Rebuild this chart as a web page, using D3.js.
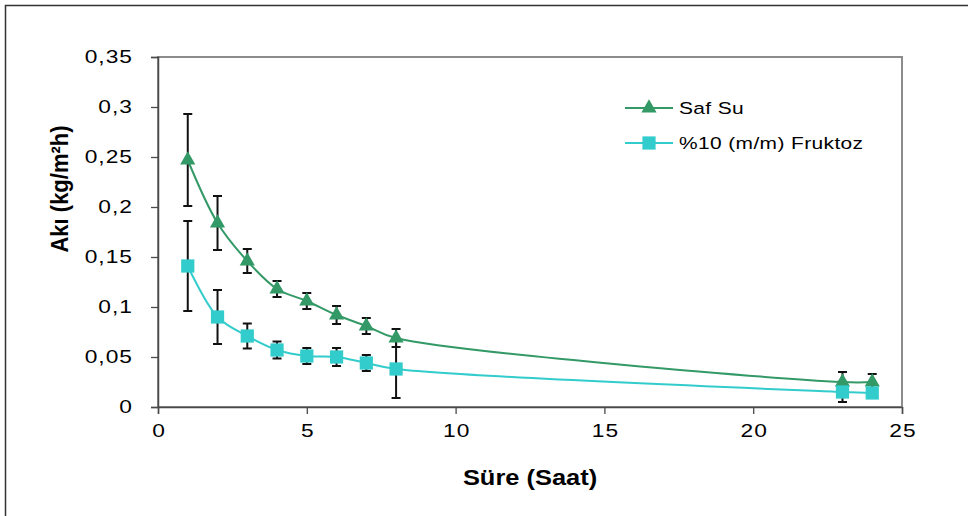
<!DOCTYPE html>
<html>
<head>
<meta charset="utf-8">
<script src="https://cdn.jsdelivr.net/npm/d3@7"></script>
<style>
  body { margin: 0; background: #fff; }
  svg { display: block; font-family: "Liberation Sans", Arial, sans-serif; }
</style>
</head>
<body>
<div id="chart"></div>
<script>
const hours = [1, 2, 3, 4, 5, 6, 7, 8, 23, 24];
const safSu = [0.247, 0.184, 0.146, 0.118, 0.106, 0.092, 0.081, 0.069, 0.025, 0.025];
const safSuErr = [0.046, 0.027, 0.012, 0.008, 0.008, 0.009, 0.008, 0.009, 0.010, 0.008];
const fruktoz = [0.141, 0.090, 0.071, 0.057, 0.051, 0.050, 0.044, 0.038, 0.015, 0.014];
const fruktozErr = [0.045, 0.027, 0.0125, 0.0085, 0.008, 0.009, 0.008, 0.029, 0.010, 0.004];
const xTicks = [0, 5, 10, 15, 20, 25];
const yTicks = [0, 0.05, 0.1, 0.15, 0.2, 0.25, 0.3, 0.35];

const W = 968, H = 516;
const margin = {top: 57, right: 66, bottom: 109, left: 158};
const width = W - margin.left - margin.right;
const height = H - margin.top - margin.bottom;

// the source text is drawn wider than plain Arial
const stretch = 1.3;
const spacing = 0.8;

const svg = d3.select("#chart").append("svg")
    .attr("width", W)
    .attr("height", H);

// outer chart frame
svg.append("rect")
    .attr("x", 5.5).attr("y", 5.5)
    .attr("width", W + 20).attr("height", H + 20)
    .attr("fill", "none")
    .attr("stroke", "#333")
    .attr("stroke-width", 1.5);

const g = svg.append("g")
    .attr("transform", `translate(${margin.left},${margin.top})`);

const x = d3.scaleLinear().domain([0, 25]).range([0, width]);
const y = d3.scaleLinear().domain([0, 0.35]).range([height, 0]);

// plot area border
g.append("rect")
    .attr("width", width).attr("height", height)
    .attr("fill", "none")
    .attr("stroke", "#8c8c8c")
    .attr("stroke-width", 2);

const fmt = d => String(d).replace(".", ",");

const xAxis = g.append("g")
    .attr("transform", `translate(0,${height})`)
    .call(d3.axisBottom(x).tickValues(xTicks).tickSize(7).tickPadding(0).tickFormat(fmt));
const yAxis = g.append("g")
    .call(d3.axisLeft(y).tickValues(yTicks).tickSize(7).tickPadding(0).tickFormat(fmt));

[xAxis, yAxis].forEach(a => {
    a.selectAll(".domain").attr("stroke", "#4a4a4a").attr("stroke-width", 1.5);
    a.selectAll(".tick line").attr("stroke", "#4a4a4a").attr("stroke-width", 1.3);
    a.selectAll("text").attr("font-size", 17.5).attr("fill", "#000")
        .attr("font-family", "'Liberation Sans', Arial, sans-serif")
        .attr("letter-spacing", spacing)
        .attr("transform", `scale(${stretch},1)`);
});
xAxis.selectAll("text").attr("x", spacing / 2).attr("y", 24).attr("dy", "0.35em");
yAxis.selectAll("text").attr("x", (-26 + spacing * stretch) / stretch);

// axis titles
g.append("text")
    .attr("transform", `translate(${width / 2},${height + 70}) scale(1.13,1)`)
    .attr("text-anchor", "middle")
    .attr("dy", "0.35em")
    .attr("font-size", 22.5)
    .attr("font-weight", "bold")
    .text("Süre (Saat)");

g.append("text")
    .attr("transform", `translate(${59 - margin.left},${189 - margin.top}) rotate(-90) scale(1,1.12)`)
    .attr("text-anchor", "middle")
    .attr("dy", "0.35em")
    .attr("font-size", 22)
    .attr("font-weight", "bold")
    .text("Akı (kg/m²h)");

const series = [
    {name: "Saf Su", values: safSu, err: safSuErr, color: "#339966", shape: d3.symbolTriangle, size: 100},
    {name: "%10 (m/m) Fruktoz", values: fruktoz, err: fruktozErr, color: "#33CCCC", shape: d3.symbolSquare, size: 175}
];

const line = d3.line()
    .x((d, i) => x(hours[i]))
    .y(d => y(d))
    .curve(d3.curveCatmullRom.alpha(0.5));

// lines
series.forEach(s => {
    g.append("path")
        .datum(s.values)
        .attr("fill", "none")
        .attr("stroke", s.color)
        .attr("stroke-width", 2)
        .attr("d", line);
});

// error bars
series.forEach(s => {
    const eb = g.append("g").selectAll("g")
        .data(s.values.map((v, i) => ({x: hours[i], v, e: s.err[i]})))
        .join("g")
        .attr("stroke", "#111")
        .attr("stroke-width", 2);
    eb.append("line")
        .attr("x1", d => x(d.x)).attr("x2", d => x(d.x))
        .attr("y1", d => y(d.v - d.e)).attr("y2", d => y(d.v + d.e));
    eb.append("line")
        .attr("x1", d => x(d.x) - 4.5).attr("x2", d => x(d.x) + 4.5)
        .attr("y1", d => y(d.v + d.e)).attr("y2", d => y(d.v + d.e));
    eb.append("line")
        .attr("x1", d => x(d.x) - 4.5).attr("x2", d => x(d.x) + 4.5)
        .attr("y1", d => y(d.v - d.e)).attr("y2", d => y(d.v - d.e));
});

// markers
series.forEach(s => {
    g.append("g").selectAll("path")
        .data(s.values)
        .join("path")
        .attr("transform", (d, i) => `translate(${x(hours[i])},${y(d)})`)
        .attr("d", d3.symbol().type(s.shape).size(s.size))
        .attr("fill", s.color);
});

// legend
const legend = svg.append("g")
    .selectAll("g")
    .data(series)
    .join("g")
    .attr("transform", (d, i) => `translate(625,${108 + i * 35})`);

legend.append("line")
    .attr("x1", 0).attr("x2", 48)
    .attr("stroke", d => d.color)
    .attr("stroke-width", 2);
legend.append("path")
    .attr("transform", "translate(24,0)")
    .attr("d", d => d3.symbol().type(d.shape).size(d.size)())
    .attr("fill", d => d.color);
legend.append("text")
    .attr("transform", "translate(54,0) scale(1.27,1)")
    .attr("dy", "0.35em")
    .attr("font-size", 16.5)
    .attr("letter-spacing", 0.3)
    .text(d => d.name);
</script>
</body>
</html>
